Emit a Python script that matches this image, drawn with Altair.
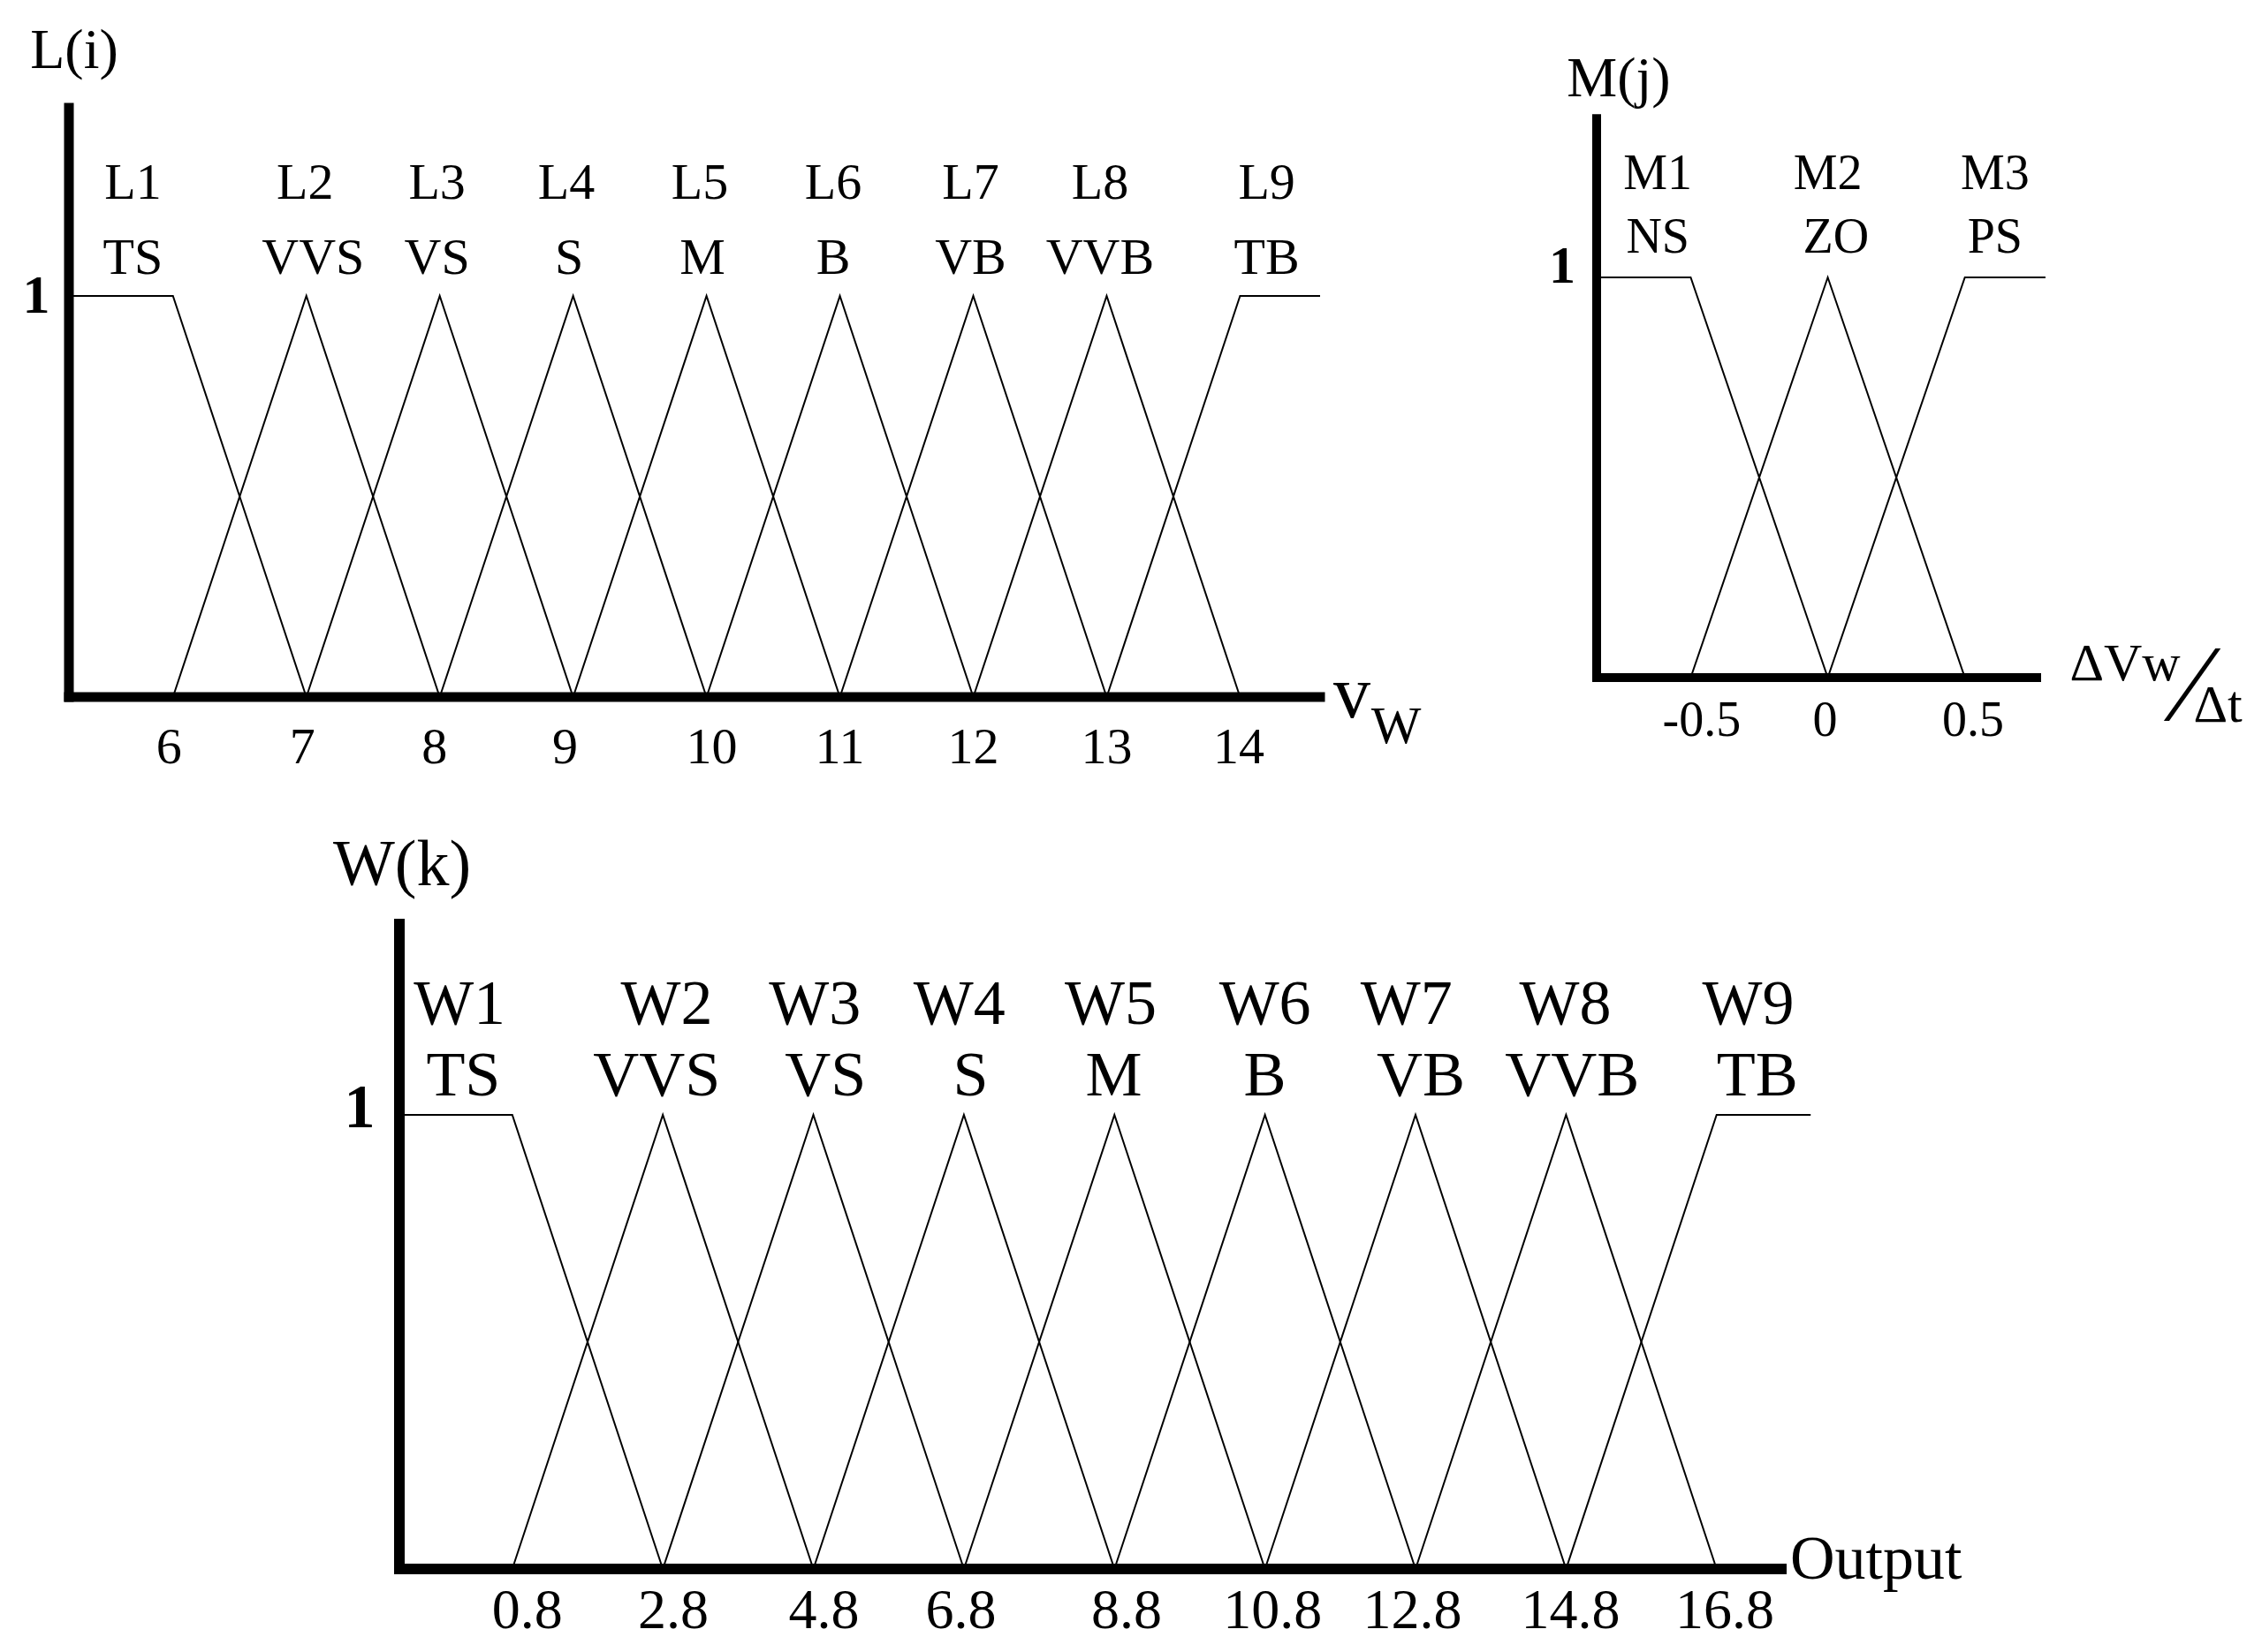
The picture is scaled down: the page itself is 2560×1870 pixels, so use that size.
import altair as alt
import pandas as pd

FONT = "Liberation Serif"
INK = "#000000"

# ---------------- Panel 1: L(i) over wind speed v_W ----------------
L_names = ["L1", "L2", "L3", "L4", "L5", "L6", "L7", "L8", "L9"]
L_terms = ["TS", "VVS", "VS", "S", "M", "B", "VB", "VVB", "TB"]
L_name_x = [5.70, 6.99, 7.98, 8.95, 9.95, 10.95, 11.98, 12.95, 14.20]
L_term_x = [5.70, 7.05, 7.98, 8.97, 9.97, 10.95, 11.98, 12.95, 14.20]
L_vx = [[5.22, 6, 7], [6, 7, 8], [7, 8, 9], [8, 9, 10], [9, 10, 11],
        [10, 11, 12], [11, 12, 13], [12, 13, 14], [13, 14, 14.6]]
L_vy = [[1, 1, 0], [0, 1, 0], [0, 1, 0], [0, 1, 0], [0, 1, 0],
        [0, 1, 0], [0, 1, 0], [0, 1, 0], [0, 1, 1]]
L_tick_x = [5.97, 6.97, 7.96, 8.94, 10.04, 11.0, 12.0, 13.0, 13.99]
L_tick_labels = ["6", "7", "8", "9", "10", "11", "12", "13", "14"]

# ---------------- Panel 2: M(j) over dVw/dt ----------------
M_names = ["M1", "M2", "M3"]
M_terms = ["NS", "ZO", "PS"]
M_name_x = [-0.62, 0.0, 0.61]
M_term_x = [-0.62, 0.03, 0.61]
M_vx = [[-0.843, -0.5, 0.0], [-0.5, 0.0, 0.5], [0.0, 0.5, 0.794]]
M_vy = [[1, 1, 0], [0, 1, 0], [0, 1, 1]]
M_tick_x = [-0.46, -0.01, 0.53]
M_tick_labels = ["-0.5", "0", "0.5"]

# ---------------- Panel 3: W(k) over Output ----------------
W_names = ["W1", "W2", "W3", "W4", "W5", "W6", "W7", "W8", "W9"]
W_terms = ["TS", "VVS", "VS", "S", "M", "B", "VB", "VVB", "TB"]
W_name_x = [0.10, 2.85, 4.82, 6.74, 8.75, 10.80, 12.68, 14.79, 17.22]
W_term_x = [0.15, 2.72, 4.96, 6.89, 8.79, 10.80, 12.87, 14.88, 17.34]
W_vx = [[-0.7, 0.8, 2.8], [0.8, 2.8, 4.8], [2.8, 4.8, 6.8], [4.8, 6.8, 8.8],
        [6.8, 8.8, 10.8], [8.8, 10.8, 12.8], [10.8, 12.8, 14.8],
        [12.8, 14.8, 16.8], [14.8, 16.8, 18.05]]
W_vy = [[1, 1, 0], [0, 1, 0], [0, 1, 0], [0, 1, 0], [0, 1, 0],
        [0, 1, 0], [0, 1, 0], [0, 1, 0], [0, 1, 1]]
W_tick_x = [1.0, 2.94, 4.94, 6.76, 8.96, 10.9, 12.76, 14.86, 16.91]
W_tick_labels = ["0.8", "2.8", "4.8", "6.8", "8.8", "10.8", "12.8", "14.8", "16.8"]

# ---------------- layout (pixel placement of each panel) ----------------
G_L = dict(xdom=[5.22, 14.6], xrange=[70, 1486], yrange=[781, 327], ytop=1.469,
           row1=1.28, row2=1.093, title_y=1.61, one_y=1.0)
G_M = dict(xdom=[-0.843, 0.762], xrange=[1799, 2297], yrange=[759, 306], ytop=1.397,
           row1=1.258, row2=1.10, title_y=1.494, one_y=1.026)
G_W = dict(xdom=[-0.7, 17.66], xrange=[444, 2008], yrange=[1768, 1254], ytop=1.42,
           row1=1.243, row2=1.086, title_y=1.549, one_y=1.014)


def scales(g):
    xs = alt.Scale(domain=g["xdom"], range=g["xrange"], nice=False, zero=False)
    ys = alt.Scale(domain=[0, 1], range=g["yrange"], nice=False, zero=False)
    return xs, ys


def enc_xy(g, xf="x", yf="y"):
    xs, ys = scales(g)
    return dict(x=alt.X(f"{xf}:Q", scale=xs, axis=None),
                y=alt.Y(f"{yf}:Q", scale=ys, axis=None))


def lines_layer(names, vx, vy, g, sw=2.0):
    rows = []
    for n, xs_, ys_ in zip(names, vx, vy):
        for i, (a, b) in enumerate(zip(xs_, ys_)):
            rows.append({"fn": n, "i": i, "x": a, "y": b})
    df = pd.DataFrame(rows)
    return alt.Chart(df).mark_line(color=INK, strokeWidth=sw).encode(
        detail="fn:N", order="i:Q", **enc_xy(g))


def axes_layers(g, w):
    xs, ys = scales(g)
    xdf = pd.DataFrame([{"x0": g["xdom"][0], "x1": g["xdom"][1], "y": 0}])
    ydf = pd.DataFrame([{"x": g["xdom"][0], "y0": 0, "y1": g["ytop"]}])
    xa = alt.Chart(xdf).mark_rule(color=INK, strokeWidth=w, strokeCap="square").encode(
        x=alt.X("x0:Q", scale=xs, axis=None), x2="x1:Q",
        y=alt.Y("y:Q", scale=ys, axis=None))
    ya = alt.Chart(ydf).mark_rule(color=INK, strokeWidth=w, strokeCap="square").encode(
        x=alt.X("x:Q", scale=xs, axis=None),
        y=alt.Y("y0:Q", scale=ys, axis=None), y2="y1:Q")
    return [xa, ya]


def text_layer(xv, yv, texts, g, size, dx=0, dy=0, weight="normal", align="center",
               font=FONT):
    df = pd.DataFrame({"x": xv, "y": yv, "t": texts})
    return alt.Chart(df).mark_text(font=font, fontSize=size, fontWeight=weight, color=INK,
                                   align=align, baseline="middle", dx=dx, dy=dy
                                   ).encode(text="t:N", **enc_xy(g))


layers = []

# ---- panel L ----
g = G_L
layers.append(lines_layer(L_names, L_vx, L_vy, g))
layers += axes_layers(g, 11)
layers.append(text_layer(L_name_x, [g["row1"]] * 9, L_names, g, 58))
layers.append(text_layer(L_term_x, [g["row2"]] * 9, L_terms, g, 58))
layers.append(text_layer(L_tick_x, [0] * 9, L_tick_labels, g, 58, dy=58))
layers.append(text_layer([g["xdom"][0]], [g["title_y"]], ["L(i)"], g, 64, dx=6))
layers.append(text_layer([g["xdom"][0]], [g["one_y"]], ["1"], g, 62, dx=-37, weight="bold"))
layers.append(text_layer([g["xdom"][1]], [0], ["v"], g, 84, dx=36, dy=-2))
layers.append(text_layer([g["xdom"][1]], [0], ["W"], g, 60, dx=86, dy=34))

# ---- panel M ----
g = G_M
layers.append(lines_layer(M_names, M_vx, M_vy, g))
layers += axes_layers(g, 10)
layers.append(text_layer(M_name_x, [g["row1"]] * 3, M_names, g, 56))
layers.append(text_layer(M_term_x, [g["row2"]] * 3, M_terms, g, 56))
layers.append(text_layer(M_tick_x, [0] * 3, M_tick_labels, g, 56, dy=49))
layers.append(text_layer([g["xdom"][0]], [g["title_y"]], ["M(j)"], g, 64, dx=25))
layers.append(text_layer([g["xdom"][0]], [g["one_y"]], ["1"], g, 60, dx=-39, weight="bold"))
layers.append(text_layer([g["xdom"][1]], [0], ["\u0394Vw"], g, 60, dx=100, dy=-15))
layers.append(text_layer([g["xdom"][1]], [0], ["\u2044"], g, 124, dx=176, dy=12))
layers.append(text_layer([g["xdom"][1]], [0], ["\u0394t"], g, 60, dx=205, dy=32))

# ---- panel W ----
g = G_W
layers.append(lines_layer(W_names, W_vx, W_vy, g))
layers += axes_layers(g, 12)
layers.append(text_layer(W_name_x, [g["row1"]] * 9, W_names, g, 72))
layers.append(text_layer(W_term_x, [g["row2"]] * 9, W_terms, g, 72))
layers.append(text_layer(W_tick_x, [0] * 9, W_tick_labels, g, 64, dy=48))
layers.append(text_layer([g["xdom"][0]], [g["title_y"]], ["W(k)"], g, 74, dx=3))
layers.append(text_layer([g["xdom"][0]], [g["one_y"]], ["1"], g, 70, dx=-45, weight="bold"))
layers.append(text_layer([g["xdom"][1]], [0], ["Output"], g, 70, dx=10, dy=-10, align="left"))

chart = (
    alt.layer(*layers)
    .resolve_scale(x="independent", y="independent")
    .properties(width=2544, height=1854, padding=0,
                autosize=alt.AutoSizeParams(type="none"),
                background="white")
    .configure_view(stroke=None)
)

chart.save("out.html", embed_options={"renderer": "svg", "actions": False})
